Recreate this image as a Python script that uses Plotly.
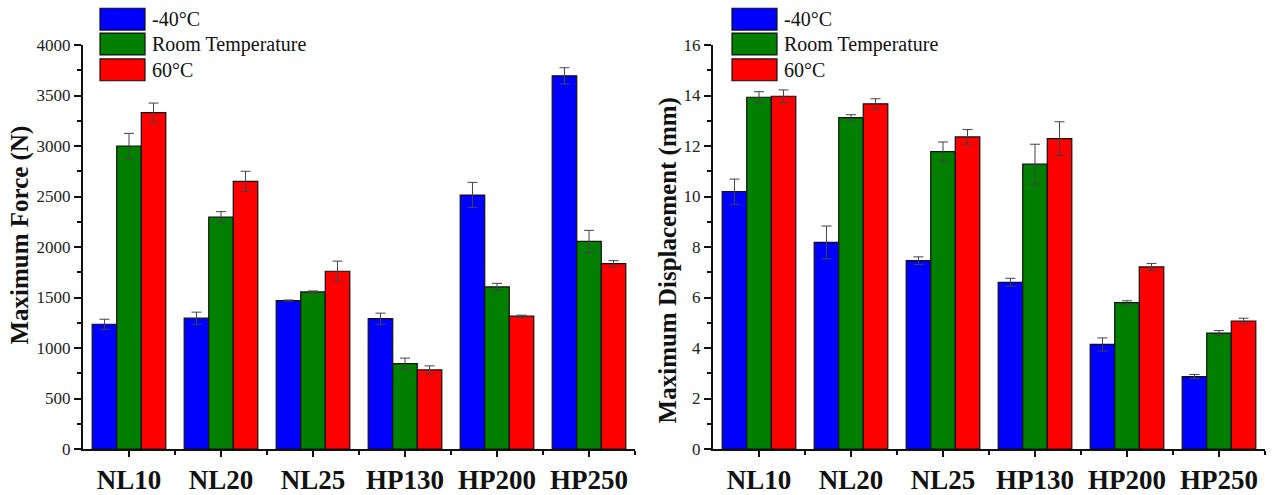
import plotly.graph_objects as go

categories = ["NL10", "NL20", "NL25", "HP130", "HP200", "HP250"]
series_names = ["-40°C", "Room Temperature", "60°C"]
colors = ["#0000FF", "#007F00", "#FF0000"]

force_m40 = [1235, 1295, 1470, 1290, 2515, 3695]
force_rt = [3000, 2295, 1555, 845, 1605, 2055]
force_60 = [3330, 2650, 1760, 783, 1315, 1835]
force_m40_err = [50, 60, 5, 55, 125, 80]
force_rt_err = [125, 55, 10, 55, 35, 110]
force_60_err = [95, 100, 100, 40, 10, 30]

disp_m40 = [10.19, 8.18, 7.46, 6.60, 4.14, 2.87]
disp_rt = [13.93, 13.12, 11.78, 11.28, 5.80, 4.59]
disp_60 = [13.97, 13.67, 12.36, 12.29, 7.21, 5.07]
disp_m40_err = [0.50, 0.65, 0.15, 0.16, 0.26, 0.08]
disp_rt_err = [0.22, 0.12, 0.38, 0.79, 0.07, 0.10]
disp_60_err = [0.25, 0.20, 0.29, 0.67, 0.14, 0.11]

force_ticks = [0, 500, 1000, 1500, 2000, 2500, 3000, 3500, 4000]
disp_ticks = [0, 2, 4, 6, 8, 10, 12, 14, 16]
y_titles = ["Maximum Force (N)", "Maximum Displacement (mm)"]

W, H = 1274, 495
MT, MB = 45, 43
FONT = "Liberation Serif"

xpos = list(range(len(categories)))
minor_x = [i + 0.5 for i in range(len(categories))]

fig = go.Figure()

force_sets = [(force_m40, force_m40_err), (force_rt, force_rt_err), (force_60, force_60_err)]
disp_sets = [(disp_m40, disp_m40_err), (disp_rt, disp_rt_err), (disp_60, disp_60_err)]

for k, (vals, errs) in enumerate(force_sets):
    fig.add_trace(go.Bar(
        x=xpos, y=vals, name=series_names[k], xaxis="x", yaxis="y",
        marker=dict(color=colors[k], line=dict(color="#111111", width=1.2)),
        error_y=dict(type="data", array=errs, visible=True, color="#444444", thickness=1, width=5),
        offsetgroup=str(k), showlegend=False,
    ))
for k, (vals, errs) in enumerate(disp_sets):
    fig.add_trace(go.Bar(
        x=xpos, y=vals, name=series_names[k], xaxis="x2", yaxis="y2",
        marker=dict(color=colors[k], line=dict(color="#111111", width=1.2)),
        error_y=dict(type="data", array=errs, visible=True, color="#444444", thickness=1, width=5),
        offsetgroup=str(k), showlegend=False,
    ))

def xaxis_cfg(domain, anchor):
    return dict(
        domain=domain, anchor=anchor, range=[-0.5, len(categories) - 0.5],
        tickmode="array", tickvals=xpos, ticktext=categories,
        tickfont=dict(family=FONT, size=27, color="#111111", weight="bold"),
        showline=True, linecolor="#111111", linewidth=2,
        ticks="outside", ticklen=6, tickwidth=1.5, tickcolor="#111111",
        minor=dict(tickmode="array", tickvals=minor_x, ticks="outside", ticklen=4, tickwidth=1.5, tickcolor="#111111"),
        showgrid=False, zeroline=False, fixedrange=True,
    )

def yaxis_cfg(anchor, rng, ticks, minor_dtick):
    return dict(
        anchor=anchor, domain=[0, 1], range=rng,
        tickmode="array", tickvals=ticks, ticktext=[str(t) for t in ticks],
        tickfont=dict(family=FONT, size=17, color="#222222"),
        showline=True, linecolor="#111111", linewidth=2,
        ticks="outside", ticklen=7, tickwidth=1.5, tickcolor="#111111",
        minor=dict(dtick=minor_dtick, tick0=0, ticks="outside", ticklen=4, tickwidth=1.5, tickcolor="#111111"),
        showgrid=False, zeroline=False, fixedrange=True,
    )

fig.update_layout(
    width=W, height=H,
    margin=dict(l=0, r=0, t=MT, b=MB),
    paper_bgcolor="white", plot_bgcolor="white",
    barmode="group", bargap=0.2, bargroupgap=0,
    showlegend=False,
    xaxis=xaxis_cfg([83 / W, 635 / W], "y"),
    yaxis=yaxis_cfg("x", [0, 4000], force_ticks, 250),
    xaxis2=xaxis_cfg([713 / W, 1265 / W], "y2"),
    yaxis2=yaxis_cfg("x2", [0, 16], disp_ticks, 1),
)

plot_h = H - MT - MB
def py(ypix):
    return (H - MB - ypix) / plot_h

# y-axis titles placed as rotated annotations
for (cx, cy), title in zip([(20, 237), (668, 262)], y_titles):
    fig.add_annotation(xref="paper", yref="paper", x=cx / W, y=py(cy), text=title,
                       textangle=-90, showarrow=False, xanchor="center", yanchor="middle",
                       font=dict(family=FONT, size=25, color="#111111", weight="bold"))

# custom legends (large swatches as in the reference)
row_tops = [8, 33, 59]
row_h = 22
for x0, tx in [(100, 150), (732, 782)]:
    for k, name in enumerate(series_names):
        top = row_tops[k]
        fig.add_shape(type="rect", xref="paper", yref="paper",
                      x0=x0 / W, x1=(x0 + 45) / W, y0=py(top + row_h), y1=py(top),
                      fillcolor=colors[k], line=dict(color="#111111", width=1.2))
        fig.add_annotation(xref="paper", yref="paper", x=tx / W, y=py(top + row_h / 2),
                           text=name, showarrow=False, xanchor="left", yanchor="middle",
                           font=dict(family=FONT, size=20, color="#111111"))

fig.write_html("out.html")
